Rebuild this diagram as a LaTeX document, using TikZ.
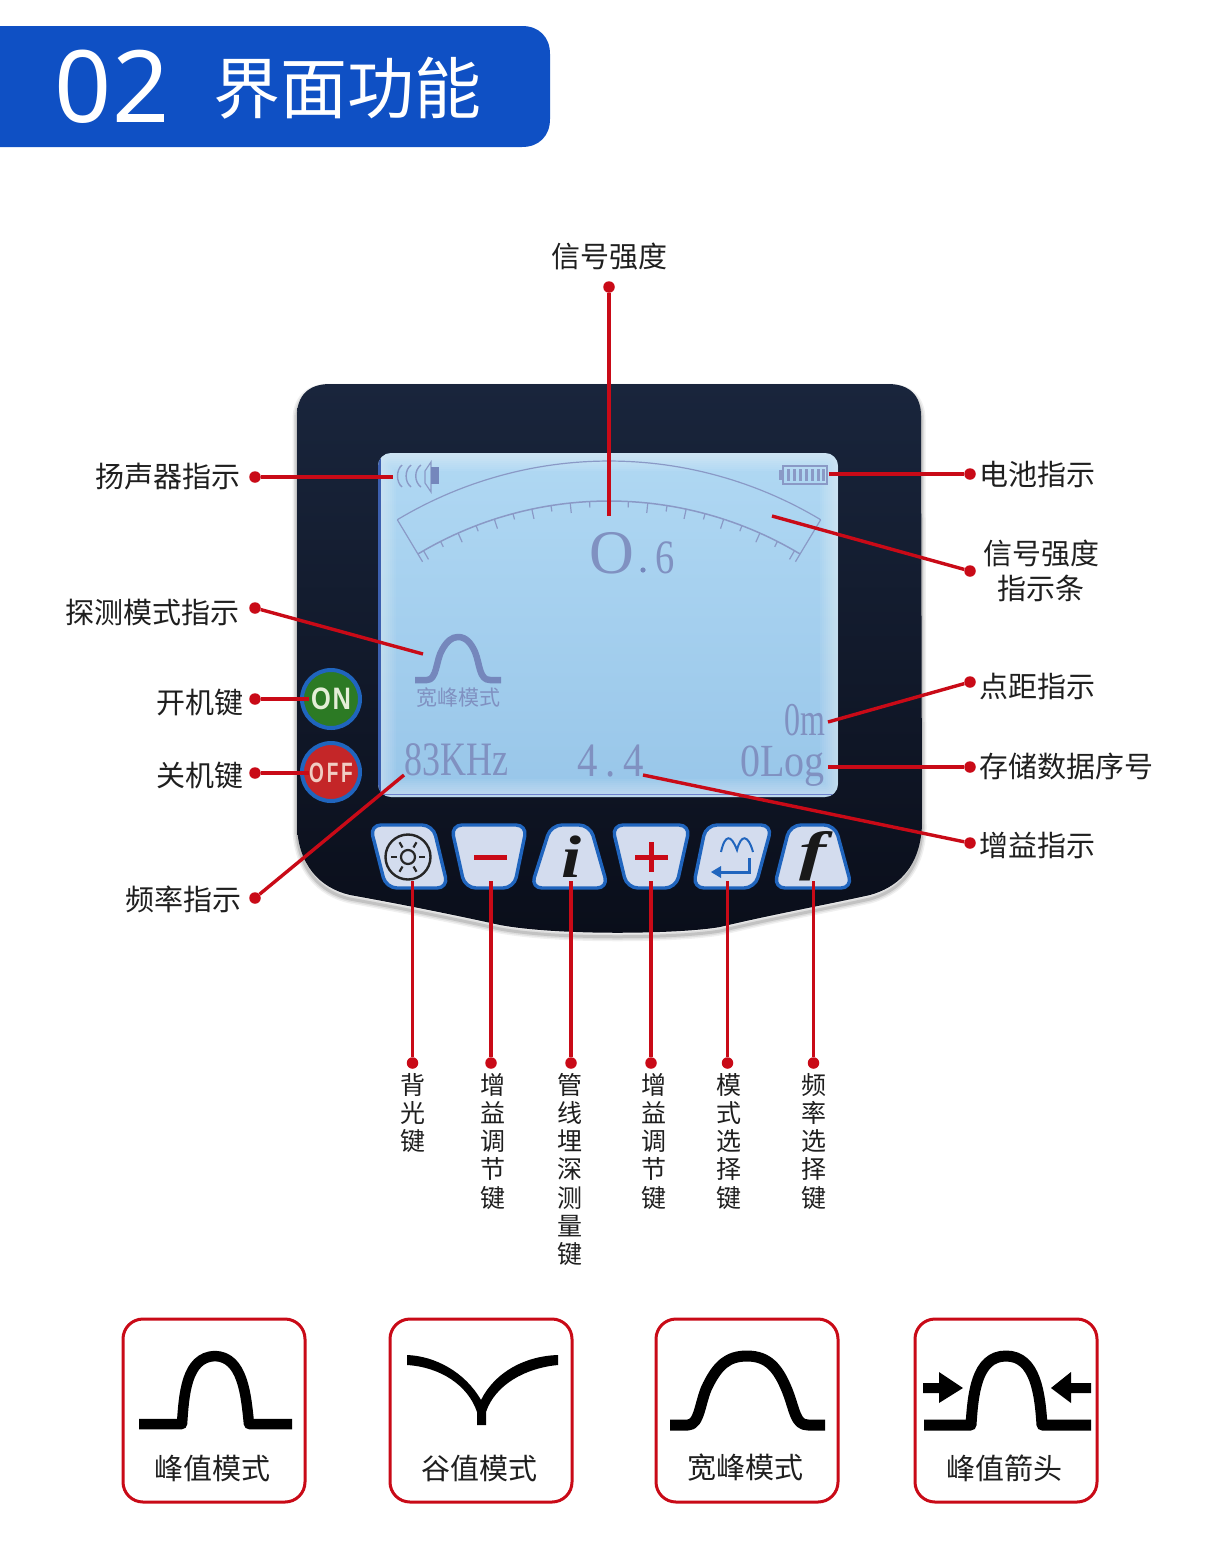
\documentclass[tikz,border=0pt]{standalone}
\usepackage{fontspec}
\usepackage{graphicx}
\setmainfont{Noto Sans CJK SC}
\newfontfamily\lcdfont{Liberation Serif}
\newfontfamily\latinfont{Noto Sans}
\newfontfamily\keyfont{Liberation Sans}
\definecolor{leadred}{HTML}{C90A17}
\definecolor{headblue}{HTML}{0F50C4}
\definecolor{lcdink}{HTML}{7587BC}
\definecolor{keyblue}{HTML}{2065BE}
\definecolor{keyfill}{HTML}{D3DCEE}
\definecolor{lcdedge}{RGB}{60,95,175}
\definecolor{lcdstrip}{RGB}{110,130,205}
\tikzset{
 rdot/.style={circle,fill=leadred,draw=none,inner sep=0pt,minimum size=11.5pt},
 leader/.style={draw=leadred,line width=3.4pt},
 lab/.style={inner sep=0pt,text=black!88,font=\fontsize{29}{35}\selectfont},
 vlab/.style={inner sep=0pt,anchor=north,align=center,text=black!88,font=\fontsize{25}{28.2}\selectfont},
 card/.style={draw=leadred,line width=3pt,rounded corners=20pt,fill=white},
 keyb/.style={draw=keyblue,line width=3.4pt,fill=keyfill,rounded corners=11pt,line join=round},
 lcdt/.style={inner sep=0pt,text=lcdink!92},
 wave/.style={draw=black,line width=10.5pt,line join=round},
 lcdline/.style={draw=lcdink!85,line width=1.2pt},
}
\newcommand\panelshape{(297,416) .. controls (297,396) and (308,384) .. (330,384) -- (888,384) .. controls (910,384) and (921,396) .. (921,416) -- (922,825) .. controls (920,870) and (895,888) .. (870,895) .. controls (820,906) and (770,915) .. (720,927) .. controls (680,934) and (560,936) .. (500,925) .. controls (450,914) and (400,904) .. (350,895) .. controls (320,888) and (298,865) .. (297,825) -- cycle}
\begin{document}
\begin{tikzpicture}[x=1pt,y=-1pt]
\useasboundingbox (0,0) rectangle (1220,1558);
\fill[white] (0,0) rectangle (1220,1558);
% header
\fill[headblue] (0,26) -- (522,26) .. controls (539,26) and (550,37) .. (550,54) -- (550,119) .. controls (550,136) and (539,147) .. (522,147) -- (0,147) -- cycle;
\node[inner sep=0pt,text=white,font=\latinfont\fontsize{100}{110}\selectfont] (num) at (112,87) {02};
\node[inner sep=0pt,text=white,font=\fontsize{67}{75}\selectfont] (title) at (347,88) {界面功能};
% panel shadow
\foreach \s/\o in {9/.06,6/.08,3/.12}{
 \draw[black,opacity=\o,line width=\s pt,shift={(0,4)}] \panelshape;
}
\shade[top color={rgb,255:red,25;green,37;blue,60},middle color={rgb,255:red,14;green,21;blue,38},bottom color={rgb,255:red,10;green,14;blue,26}] \panelshape;
% LCD
\begin{scope}
\clip[rounded corners=13pt] (378,453) rectangle (838,797);
\shade[top color={rgb,255:red,176;green,216;blue,243},bottom color={rgb,255:red,152;green,198;blue,233}] (378,453) rectangle (838,797);
\foreach \w in {4,8,...,36}{
 \draw[white,opacity=.055,line width=\w pt,rounded corners=13pt] (378,453) rectangle (838,797);
}
\fill[lcdedge] (378,453) rectangle (380.5,797);
\fill[lcdstrip] (378,793.5) rectangle (838,795);
\end{scope}
% gauge
\draw[lcdline] plot[domain=-31:31,samples=60] ({609+411*sin(\x)},{872-411*cos(\x)});
\draw[lcdline,line width=1.5pt] plot[domain=-31:31,samples=60] ({609+371*sin(\x)},{872-371*cos(\x)});
\draw[lcdline] ({609-411*sin(31)},{872-411*cos(31)}) -- ({609-362*sin(31)},{872-362*cos(31)});
\draw[lcdline] ({609+411*sin(31)},{872-411*cos(31)}) -- ({609+362*sin(31)},{872-362*cos(31)});
\foreach \a in {-30,-24,-18,-12,-6,0,6,12,18,24,30}{
 \draw[lcdline] ({609+371*sin(\a)},{872-371*cos(\a)}) -- ({609+361*sin(\a)},{872-361*cos(\a)});
}
\foreach \a in {-27,-21,-15,-9,-3,3,9,15,21,27}{
 \draw[lcdline] ({609+371*sin(\a)},{872-371*cos(\a)}) -- ({609+365*sin(\a)},{872-365*cos(\a)});
}
% speaker icon
\foreach \x/\b in {399/3,408/3.5,418/4}{
 \draw[lcdline,line width=1.4pt] (\x+3,465) .. controls (\x-\b,470) and (\x-\b,482) .. (\x+3,487);
}
\draw[lcdline] (425,471) -- (425,483) -- (431,492) -- (431,462) -- cycle;
\fill[lcdink] (431,467) rectangle (439,484);
% battery icon
\draw[lcdink!85,line width=1.6pt] (783,466) rectangle (827,484);
\fill[lcdink!85] (779,470) rectangle (783,480);
\foreach \x in {787,793,799,805,811,817,822}{
 \fill[lcdink!85] (\x,469) rectangle (\x+3,481);
}
% LCD texts
\node[lcdt,font=\lcdfont\fontsize{62}{70}\selectfont] (valO) at (612,553) {O};
\fill[lcdink] (643,570) circle[radius=2.6pt];
\node[lcdt,font=\lcdfont\fontsize{48}{52}\selectfont,anchor=base] (valsix) at (665,573) {\scalebox{.8}[1]{6}};
\node[lcdt,font=\lcdfont\fontsize{48}{52}\selectfont,anchor=base west] (freq) at (404,775) {\scalebox{.75}[1]{83KHz}};
\node[lcdt,font=\lcdfont\fontsize{48}{52}\selectfont,anchor=base west] (gain) at (577,776) {\scalebox{.85}[1]{4\kern9pt.\kern9pt4}};
\node[lcdt,font=\lcdfont\fontsize{47}{52}\selectfont,anchor=base east] (dist) at (826,735) {\scalebox{.68}[1]{0m}};
\node[lcdt,font=\lcdfont\fontsize{46}{52}\selectfont,anchor=base east] (log) at (825,776) {\scalebox{.87}[1]{0Log}};
\draw[draw=lcdink,line width=6.5pt,line join=round] (415,680) -- (427,680) .. controls (437,680) and (436,660) .. (442,650) .. controls (447,641) and (452,637) .. (458,637) .. controls (466,637) and (471,643) .. (475,652) .. controls (480,664) and (479,680) .. (490,680) -- (501,680);
\node[lcdt,font=\fontsize{21}{24}\selectfont] (lcdmode) at (458,698) {宽峰模式};
% on off
\node[circle,draw=keyblue,line width=4pt,fill={rgb,255:red,44;green,122;blue,36},minimum size=58pt,inner sep=0pt] (on) at (331,699) {};
\node[circle,draw=keyblue,line width=4pt,fill={rgb,255:red,196;green,38;blue,40},minimum size=58pt,inner sep=0pt] (off) at (331,772) {};
\node[inner sep=0pt,text={rgb,255:red,228;green,238;blue,215},font=\keyfont\bfseries\fontsize{31}{34}\selectfont] (ontext) at (331,699) {\scalebox{.82}[1]{O\kern2pt N}};
\node[inner sep=0pt,text={rgb,255:red,240;green,205;blue,195},font=\keyfont\bfseries\fontsize{28}{32}\selectfont] (offtext) at (331,773) {\scalebox{.68}[1]{O\kern4pt F\kern4pt F}};
% keys
\draw[keyb] (370,825) -- (433,825) -- (448,888) -- (386,888) -- cycle;
\draw[keyb] (451,825) -- (527,825) -- (514,888) -- (465,888) -- cycle;
\draw[keyb] (551,825) -- (590,825) -- (608,888) -- (531,888) -- cycle;
\draw[keyb] (612,825) -- (690,825) -- (676,888) -- (627,888) -- cycle;
\draw[keyb] (706,825) -- (772,825) -- (755,888) -- (693,888) -- cycle;
\draw[keyb] (790,825) -- (835,825) -- (852,888) -- (774,888) -- cycle;
% key icons
\draw[black!85,line width=2.4pt] (408,857) circle[radius=22.5pt];
\draw[black!85,line width=2.2pt] (408,857) circle[radius=7pt];
\foreach \a in {0,60,...,300}{
 \draw[black!85,line width=2.2pt] ({408+11*cos(\a)},{857+11*sin(\a)}) -- ({408+17*cos(\a)},{857+17*sin(\a)});
}
\fill[leadred] (474,854.5) rectangle (507,859.5);
\fill[leadred] (635,855) rectangle (668,860);
\fill[leadred] (649,842) rectangle (654,872);
\node[inner sep=0pt,text=black!90,font=\lcdfont\bfseries\itshape\fontsize{60}{64}\selectfont] (keyi) at (571,857) {\scalebox{1.2}[1]{i}};
\node[inner sep=0pt,text=black!90,font=\lcdfont\bfseries\itshape\fontsize{54}{60}\selectfont] (keyf) at (813,856) {\scalebox{1.5}[1]{f}};
\draw[keyblue,line width=2pt] (721,852) .. controls (725,834) and (731,834) .. (737,850) .. controls (741,834) and (748,834) .. (753,852);
\draw[keyblue,line width=3pt] (749,858) -- (749,872) -- (718,872);
\fill[keyblue] (711,872) -- (721,866) -- (721,878) -- cycle;
% connectors and labels
\node[lab] (tSig) at (609,257) {信号强度};
\node[rdot] (dSig) at (609,287) {};
\coordinate (eSig) at (609,516);
\draw[leader] (dSig) -- (eSig);

\node[lab,anchor=east] (tSpk) at (241,477) {扬声器指示};
\node[rdot] (dSpk) at (255,477) {};
\coordinate (eSpk) at (393,477);
\draw[leader] (dSpk) -- (eSpk);

\node[lab,anchor=east] (tMode) at (240,612) {探测模式指示};
\node[rdot] (dMode) at (255,608) {};
\coordinate (eMode) at (423,654);
\draw[leader] (dMode) -- (eMode);

\node[lab,anchor=east] (tOn) at (244,702) {开机键};
\node[rdot] (dOn) at (255,699) {};
\coordinate (eOn) at (309,699);
\draw[leader] (dOn) -- (eOn);

\node[lab,anchor=east] (tOff) at (244,775) {关机键};
\node[rdot] (dOff) at (255,773) {};
\coordinate (eOff) at (309,773);
\draw[leader] (dOff) -- (eOff);

\node[lab,anchor=east] (tFreq) at (242,899) {频率指示};
\node[rdot] (dFreq) at (255,898) {};
\coordinate (eFreq) at (404,775);
\draw[leader] (dFreq) -- (eFreq);

\node[lab,anchor=west] (tBat) at (979,474) {电池指示};
\node[rdot] (dBat) at (970,474) {};
\coordinate (eBat) at (829,474);
\draw[leader] (dBat) -- (eBat);

\node[lab,align=center] (tBar) at (1041,571) {信号强度\\指示条};
\node[rdot] (dBar) at (970,571) {};
\coordinate (eBar) at (772,516);
\draw[leader] (dBar) -- (eBar);

\node[lab,anchor=west] (tDist) at (979,686) {点距指示};
\node[rdot] (dDist) at (970,682) {};
\coordinate (eDist) at (828,722);
\draw[leader] (dDist) -- (eDist);

\node[lab,anchor=west] (tLog) at (979,766) {存储数据序号};
\node[rdot] (dLog) at (970,767) {};
\coordinate (eLog) at (828,767);
\draw[leader] (dLog) -- (eLog);

\node[lab,anchor=west] (tGain) at (979,845) {增益指示};
\node[rdot] (dGain) at (970,843) {};
\coordinate (eGain) at (643,775);
\draw[leader] (dGain) -- (eGain);

\foreach \n/\x/\tx/\t in {a/412.5/413/{背\\光\\键},b/491/493/{增\\益\\调\\节\\键},c/571/570/{管\\线\\埋\\深\\测\\量\\键},d/651/654/{增\\益\\调\\节\\键},e/727.5/729/{模\\式\\选\\择\\键},f/813.5/814/{频\\率\\选\\择\\键}}{
 \node[rdot] (dv\n) at (\x,1063) {};
 \coordinate (ev\n) at (\x,881);
 \draw[leader] (ev\n) -- (dv\n);
 \node[vlab] (tv\n) at (\tx,1073) {\t};
}
% cards
\draw[card] (123,1319) rectangle (305,1502);
\draw[card] (390,1319) rectangle (572,1502);
\draw[card] (656,1319) rectangle (838,1502);
\draw[card] (915,1319) rectangle (1097,1502);
\node[lab] (c1) at (212,1468) {峰值模式};
\node[lab] (c2) at (479,1468) {谷值模式};
\node[lab] (c3) at (745,1468) {宽峰模式};
\node[lab] (c4) at (1004,1468) {峰值箭头};
\draw[wave] (139,1424) -- (182,1424) .. controls (184,1395) and (186,1357) .. (215,1356) .. controls (243,1357) and (246,1395) .. (249,1424) -- (292,1424);
\fill[black] (407,1355) .. controls (435,1356) and (465,1372) .. (481,1400) .. controls (495,1372) and (525,1356) .. (558,1355) -- (558,1365) .. controls (525,1368) and (495,1385) .. (486,1412) -- (486,1425) -- (477,1425) -- (477,1412) .. controls (468,1385) and (440,1367) .. (407,1365) -- cycle;
\draw[wave,line width=11pt] (670,1425) -- (688,1425) .. controls (700,1425) and (700,1400) .. (708,1385) .. controls (718,1365) and (728,1356) .. (747,1356) .. controls (768,1356) and (778,1368) .. (787,1390) .. controls (795,1410) and (795,1425) .. (808,1425) -- (825,1425);
\draw[wave,line width=11pt] (924,1425) -- (971,1425) .. controls (973,1395) and (976,1356) .. (1006,1356) .. controls (1036,1356) and (1040,1395) .. (1042,1425) -- (1091,1425);
\fill[black] (923,1383) -- (939,1383) -- (939,1372) -- (963,1388) -- (939,1403) -- (939,1393) -- (923,1393) -- cycle;
\fill[black] (1091,1383) -- (1071,1383) -- (1071,1372) -- (1051,1388) -- (1071,1403) -- (1071,1393) -- (1091,1393) -- cycle;
\end{tikzpicture}
\end{document}
